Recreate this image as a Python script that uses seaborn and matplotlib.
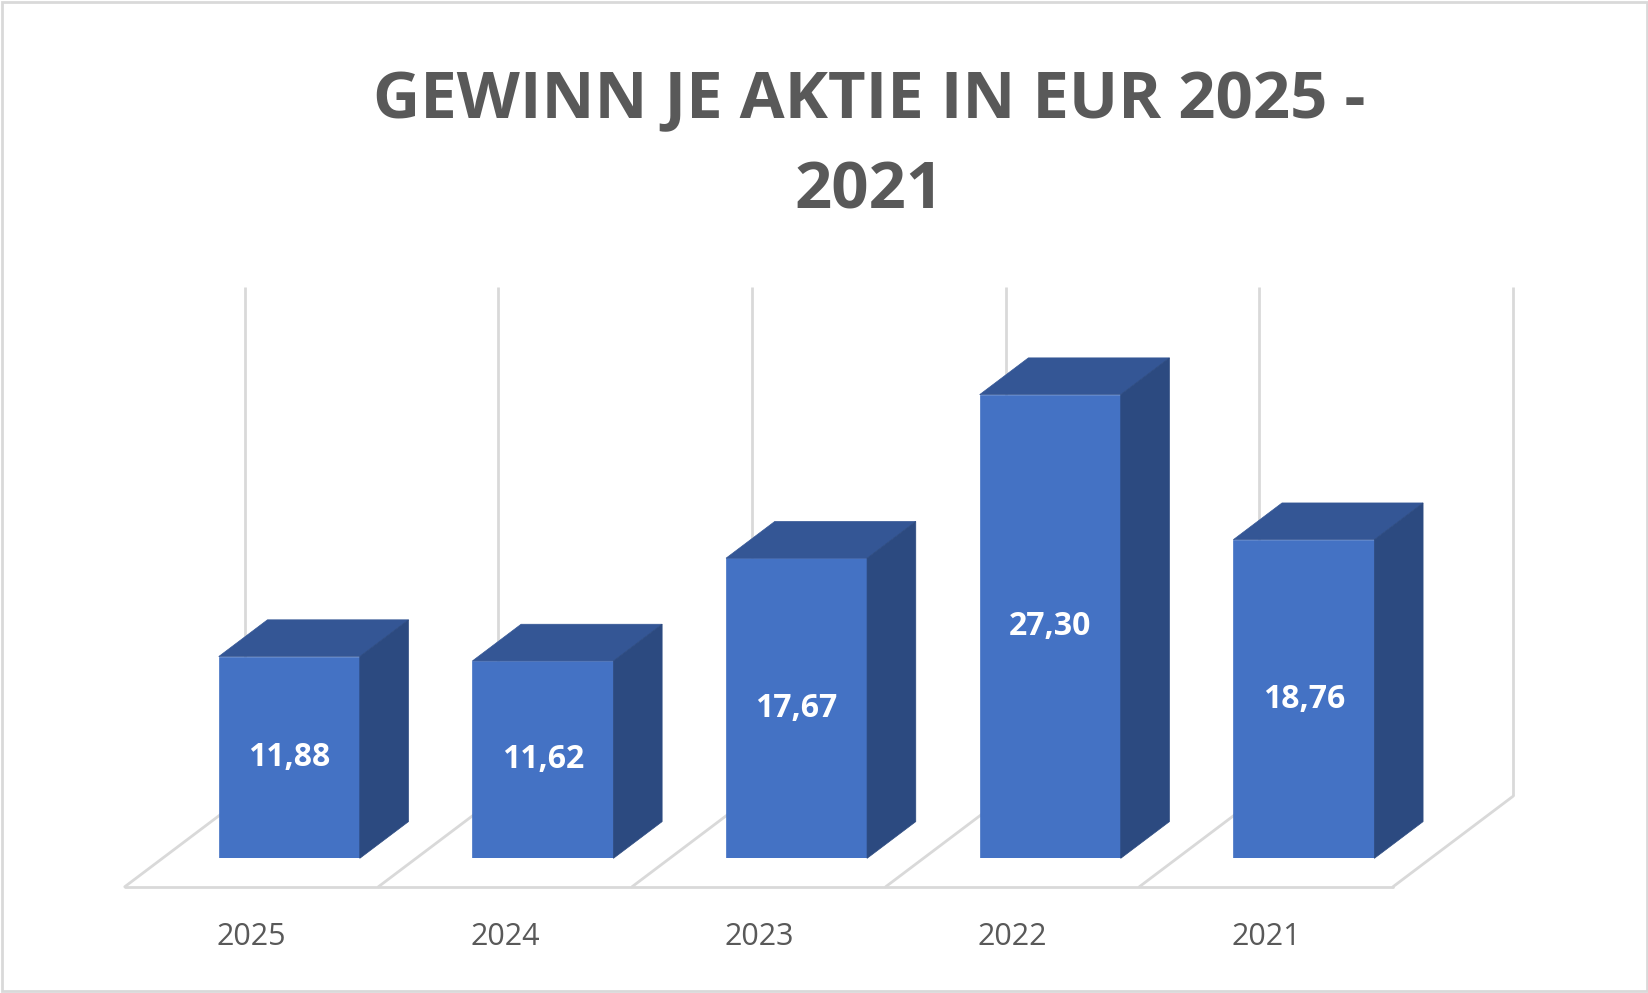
import numpy as np
import pandas as pd
import matplotlib
matplotlib.use('Agg')
import matplotlib.pyplot as plt
from matplotlib.patches import Polygon, Rectangle
import seaborn as sns

# Chart data
years = ['2025', '2024', '2023', '2022', '2021']
eps_values = [11.88, 11.62, 17.67, 27.30, 18.76]
value_labels = ['11,88', '11,62', '17,67', '27,30', '18,76']
title_text = 'GEWINN JE AKTIE IN EUR 2025 -\n2021'

df = pd.DataFrame({'Jahr': years, 'EPS': eps_values})

sns.set_theme(style='white')
plt.rcParams['font.family'] = ['Open Sans', 'DejaVu Sans']

FRONT = '#4472C4'
TOP = '#345695'
SIDE = '#2C4A80'
GRID = '#D9D9D9'
TEXT = '#595959'

fig = plt.figure(figsize=(16.49, 9.93), dpi=100)
ax = fig.add_axes([0.0985, 0.1356, 0.7691, 0.5132])

# Front faces of the bars
bar_width = 0.556
sns.barplot(data=df, x='Jahr', y='EPS', color=FRONT, saturation=1,
            width=bar_width, ax=ax, zorder=3, edgecolor=FRONT, linewidth=0.5)
ax.set_xlim(-0.5, len(years) - 0.5)
ax.set_ylim(0, 30)

# Depth of the 3D box (in data units) and placement of bars inside it
depth_x, depth_y = 0.473, 5.325
front_frac, back_frac = 0.314, 0.72
bar_dx = (back_frac - front_frac) * depth_x
bar_dy = (back_frac - front_frac) * depth_y

# Back wall vertical lines and floor
n = len(years)
back_dx = (1 - front_frac) * depth_x
back_dy = (1 - front_frac) * depth_y
fr_dx = front_frac * depth_x
fr_dy = front_frac * depth_y
wall_top = 30 + back_dy
for k in range(n + 1):
    xb = k - 0.5 + back_dx
    ax.plot([xb, xb], [back_dy, wall_top], color=GRID, lw=2, zorder=0.5,
            clip_on=False, solid_capstyle='butt')
    ax.plot([k - 0.5 - fr_dx, xb], [-fr_dy, back_dy], color=GRID, lw=2,
            zorder=0.5, clip_on=False)
ax.plot([-0.5 - fr_dx, n - 0.5 - fr_dx], [-fr_dy, -fr_dy], color=GRID, lw=2,
        zorder=0.5, clip_on=False)

# Top and side faces, plus value labels
for patch, lab in zip(ax.patches, value_labels):
    x0 = patch.get_x()
    x1 = x0 + patch.get_width()
    h = patch.get_height()
    top = Polygon([(x0, h), (x1, h), (x1 + bar_dx, h + bar_dy), (x0 + bar_dx, h + bar_dy)],
                  closed=True, facecolor=TOP, edgecolor=TOP, lw=0.5, zorder=3, clip_on=False)
    side = Polygon([(x1, 0), (x1 + bar_dx, bar_dy), (x1 + bar_dx, h + bar_dy), (x1, h)],
                   closed=True, facecolor=SIDE, edgecolor=SIDE, lw=0.5, zorder=3, clip_on=False)
    ax.add_patch(top)
    ax.add_patch(side)
    ax.text((x0 + x1) / 2, h / 2, lab, ha='center', va='center', color='white',
            fontsize=23, fontweight='bold', zorder=5)

# Category labels centred under the floor segments
ax.set_xticks(np.arange(n) - fr_dx, years)
ax.tick_params(axis='x', length=0, pad=46, labelsize=22, labelcolor=TEXT)
ax.set_yticks([])
ax.set_xlabel('')
ax.set_ylabel('')
sns.despine(ax=ax, left=True, bottom=True)
ax.patch.set_alpha(0)

fig.text(0.527, 0.93, title_text, ha='center', va='top', fontsize=47,
         fontweight='bold', color=TEXT, linespacing=1.5)

fig.patches.append(Rectangle((0.001, 0.002), 0.998, 0.996, transform=fig.transFigure,
                             fill=False, edgecolor=GRID, lw=2))

fig.savefig('out.png', dpi=100)
